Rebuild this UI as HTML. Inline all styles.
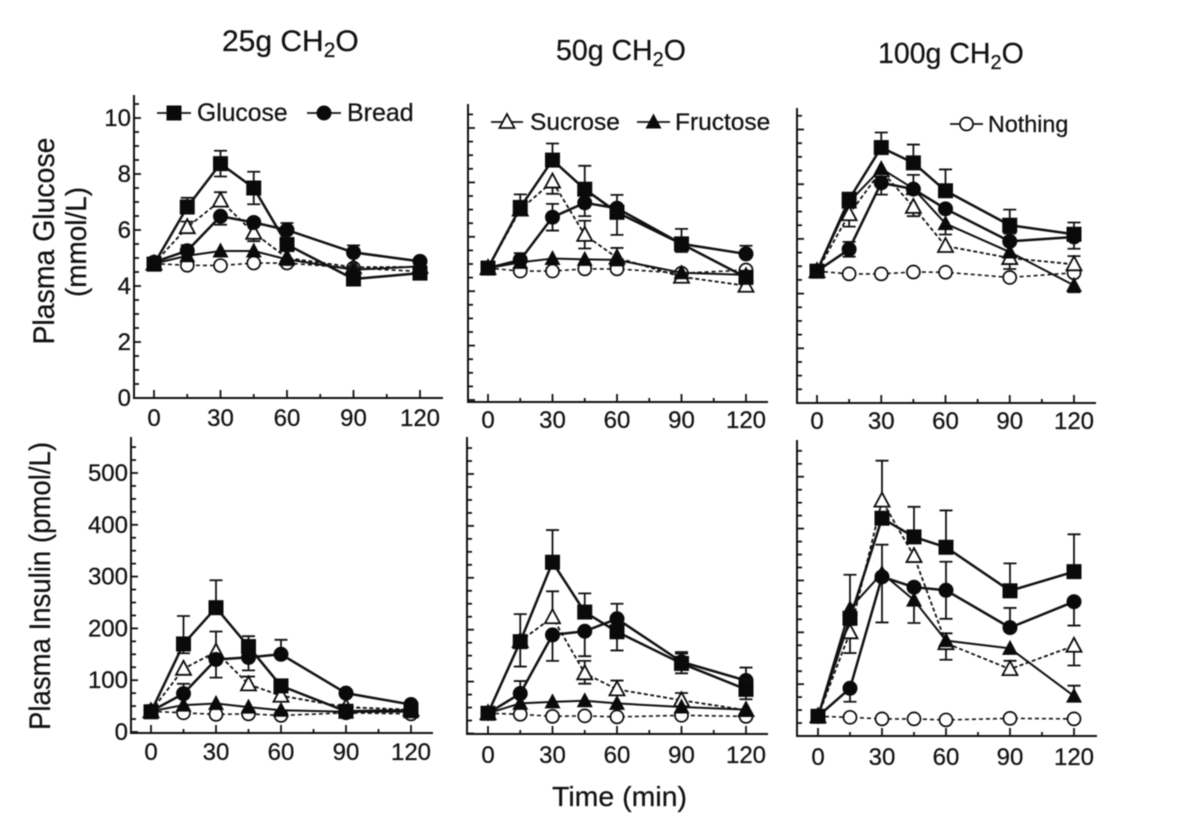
<!DOCTYPE html>
<html lang="en">
<head>
<meta charset="utf-8">
<title>Plasma glucose and insulin after CH2O loads</title>
<style>
html,body{margin:0;padding:0;background:#fff;width:1200px;height:825px;overflow:hidden}
svg{display:block;filter:blur(0.4px)}
text{font-family:"Liberation Sans",Arial,sans-serif;fill:#111;stroke:#111;stroke-width:0.25px}
</style>
</head>
<body>
<svg id="chart" xmlns="http://www.w3.org/2000/svg" width="1200" height="825" viewBox="0 0 1200 825"></svg>
<script>
// ---- Data ----
const timePoints = [0, 15, 30, 45, 60, 90, 120];
const glucoseTickLabels = [0, 2, 4, 6, 8, 10];
const insulinTickLabels = [0, 100, 200, 300, 400, 500];
const timeTickLabels = [0, 30, 60, 90, 120];
const noError = [0, 0, 0, 0, 0, 0, 0];

// Plasma glucose, 25 g
const gluc25Glucose = [4.78, 6.82, 8.37, 7.5, 5.48, 4.25, 4.46];
const gluc25Bread = [4.85, 5.26, 6.49, 6.27, 6.0, 5.2, 4.88];
const gluc25Sucrose = [4.8, 6.1, 7.05, 5.9, 5.0, 4.67, 4.68];
const gluc25Fructose = [4.8, 5.08, 5.25, 5.25, 4.95, 4.58, 4.7];
const gluc25Nothing = [4.8, 4.74, 4.73, 4.82, 4.82, 4.64, 4.52];
const gluc25GlucoseUp = [0, 0.33, 0.46, 0.58, 0, 0, 0];
const gluc25GlucoseLow = [0, 0, 0.46, 0.58, 0, 0, 0];
const gluc25BreadUp = [0, 0.2, 0, 0, 0.25, 0.25, 0];
const gluc25BreadLow = [0, 0, 0.3, 0, 0, 0, 0];
const gluc25SucroseUp = [0, 0.2, 0.3, 0, 0, 0, 0];
const gluc25SucroseLow = [0, 0.2, 0, 0.3, 0, 0, 0];

// Plasma glucose, 50 g
const gluc50Glucose = [4.85, 7.08, 8.82, 7.75, 6.9, 5.74, 4.51];
const gluc50Bread = [4.85, 5.15, 6.72, 7.25, 7.05, 5.74, 5.37];
const gluc50Sucrose = [4.85, 7.0, 8.03, 6.07, 5.23, 4.53, 4.2];
const gluc50Fructose = [4.85, 5.06, 5.2, 5.17, 5.15, 4.68, 4.6];
const gluc50Nothing = [4.85, 4.74, 4.74, 4.82, 4.82, 4.66, 4.78];
const gluc50GlucoseUp = [0, 0.48, 0.61, 0.86, 0, 0.55, 0];
const gluc50GlucoseLow = [0, 0.3, 0, 0, 0.83, 0.3, 0];
const gluc50BreadUp = [0, 0.25, 0.49, 0, 0.49, 0, 0.3];
const gluc50BreadLow = [0, 0, 0.49, 0.49, 0, 0, 0];
const gluc50SucroseUp = [0, 0, 0, 0.52, 0, 0, 0];
const gluc50SucroseLow = [0, 0, 0.45, 0.5, 0, 0, 0];
const gluc50FructoseUp = [0, 0, 0, 0, 0.44, 0, 0];
const gluc50FructoseLow = [0, 0, 0, 0.2, 0, 0, 0];

// Plasma glucose, 100 g
const gluc100Glucose = [4.82, 7.45, 9.34, 8.78, 7.76, 6.5, 6.17];
const gluc100Bread = [4.82, 5.62, 8.05, 7.82, 7.1, 5.91, 6.07];
const gluc100Sucrose = [4.82, 6.9, 8.5, 7.17, 5.74, 5.3, 5.07];
const gluc100Fructose = [4.82, 7.35, 8.57, 7.84, 6.56, 5.52, 4.3];
const gluc100Nothing = [4.82, 4.72, 4.72, 4.79, 4.78, 4.59, 4.76];
const gluc100GlucoseUp = [0, 0, 0.55, 0.67, 0.78, 0.57, 0.43];
const gluc100GlucoseLow = [0, 0, 0, 0, 0, 0.3, 0];
const gluc100BreadUp = [0, 0.27, 0, 0, 0, 0, 0];
const gluc100BreadLow = [0, 0.27, 0.43, 0, 0, 0, 0.43];
const gluc100SucroseUp = [0, 0, 0, 0, 0, 0, 0.3];
const gluc100SucroseLow = [0, 0.45, 0, 0.34, 0, 0.4, 0];
const gluc100FructoseUp = [0, 0, 0, 0.5, 0, 0, 0];
const gluc100FructoseLow = [0, 0, 0, 0, 0.4, 0, 0.25];

// Plasma insulin, 25 g
const ins25Glucose = [39, 170, 240, 165, 89, 40, 42];
const ins25Bread = [40, 74, 140, 144, 150, 75, 53];
const ins25Sucrose = [40, 122, 155, 92, 70, 48, 43];
const ins25Fructose = [40, 52, 55, 48, 42, 39, 39];
const ins25Nothing = [40, 37, 34, 35, 32, 37, 35];
const ins25GlucoseUp = [0, 54, 53, 20, 0, 0, 0];
const ins25GlucoseLow = [0, 18, 0, 0, 0, 0, 0];
const ins25BreadUp = [0, 19, 0, 0, 28, 0, 0];
const ins25BreadLow = [0, 0, 35, 25, 0, 0, 0];
const ins25SucroseUp = [0, 0, 39, 15, 0, 0, 0];

// Plasma insulin, 50 g
const ins50Glucose = [39, 177, 330, 234, 196, 135, 85];
const ins50Bread = [39, 77, 190, 197, 221, 138, 102];
const ins50Sucrose = [39, 178, 224, 116, 85, 64, 45];
const ins50Fructose = [39, 58, 61, 63, 58, 51, 46];
const ins50Nothing = [39, 37, 33, 34, 32, 35, 33];
const ins50GlucoseUp = [0, 53, 62, 36, 0, 19, 19];
const ins50GlucoseLow = [0, 48, 0, 0, 36, 19, 19];
const ins50BreadUp = [0, 24, 0, 0, 29, 19, 25];
const ins50BreadLow = [0, 0, 50, 48, 0, 0, 0];
const ins50SucroseUp = [0, 0, 50, 24, 17, 14, 0];
const ins50SucroseLow = [0, 0, 0, 20, 0, 0, 0];

// Plasma insulin, 100 g
const ins100Glucose = [38, 227, 420, 384, 364, 280, 317];
const ins100Bread = [38, 92, 307, 287, 281, 209, 259];
const ins100Sucrose = [38, 200, 454, 347, 179, 129, 174];
const ins100Fructose = [38, 246, 314, 262, 184, 169, 77];
const ins100Nothing = [38, 36, 33, 33, 31, 34, 33];
const ins100GlucoseUp = [0, 0, 0, 58, 71, 53, 72];
const ins100BreadUp = [0, 0, 0, 0, 55, 38, 0];
const ins100BreadLow = [0, 26, 0, 0, 55, 0, 46];
const ins100SucroseUp = [0, 0, 77, 0, 0, 16, 0];
const ins100SucroseLow = [0, 40, 0, 0, 32, 0, 38];
const ins100FructoseUp = [0, 65, 55, 0, 14, 0, 20];
const ins100FructoseLow = [0, 0, 95, 44, 0, 0, 0];

// ---- Drawing ----
const NS = 'http://www.w3.org/2000/svg';
const svg = document.getElementById('chart');

function node(parent, tag, attrs, txt) {
  const el = document.createElementNS(NS, tag);
  for (const k in attrs) el.setAttribute(k, attrs[k]);
  if (txt !== undefined) el.textContent = txt;
  parent.appendChild(el);
  return el;
}

function drawMarker(g, kind, cx, cy, name) {
  const black = '#0a0a0a';
  let el;
  if (kind === 'square') {
    el = node(g, 'rect', {x: cx - 7.5, y: cy - 7.5, width: 15, height: 15, fill: black});
  } else if (kind === 'dot') {
    el = node(g, 'circle', {cx: cx, cy: cy, r: 7.5, fill: black});
  } else if (kind === 'ring') {
    el = node(g, 'circle', {cx: cx, cy: cy, r: 6.5, fill: '#fff', stroke: black, 'stroke-width': 1.7});
  } else if (kind === 'open-tri') {
    el = node(g, 'path', {d: 'M' + cx + ' ' + (cy - 8) + 'L' + (cx + 7.5) + ' ' + (cy + 6) + 'L' + (cx - 7.5) + ' ' + (cy + 6) + 'Z', fill: '#fff', stroke: black, 'stroke-width': 1.8});
  } else {
    el = node(g, 'path', {d: 'M' + cx + ' ' + (cy - 8.5) + 'L' + (cx + 8) + ' ' + (cy + 6.5) + 'L' + (cx - 8) + ' ' + (cy + 6.5) + 'Z', fill: black});
  }
  
  
}

const styles = {
  Nothing: {marker: 'ring', width: 1.6, dash: '4 3'},
  Sucrose: {marker: 'open-tri', width: 1.8, dash: '4 2.5'},
  Fructose: {marker: 'tri', width: 2, dash: ''},
  Bread: {marker: 'dot', width: 2.5, dash: ''},
  Glucose: {marker: 'square', width: 2.5, dash: ''}
};

function drawPanel(p) {
  const X = function (t) { return p.x0 + (p.x120 - p.x0) * t / 120; };
  const Y = function (v) { return p.y0 - v * p.unitPx; };
  const root = node(svg, 'g', {});
  
  

  // axes
  const yAxis = node(root, 'line', {x1: p.axisX, y1: p.axisTop, x2: p.axisX, y2: p.axisBottom, stroke: '#111', 'stroke-width': 2});
  
  
  const xAxis = node(root, 'line', {x1: p.axisX - 1, y1: p.axisBottom, x2: p.xEnd, y2: p.axisBottom, stroke: '#111', 'stroke-width': 2});
  
  

  // y ticks
  const maxMinor = Math.round(p.yMax / p.yMinor);
  for (let i = 0; i <= maxMinor; i++) {
    const v = i * p.yMinor;
    const major = i % p.majorEvery === 0;
    const yTick = node(root, 'line', {x1: p.axisX, y1: Y(v), x2: p.axisX + (major ? 7 : 5), y2: Y(v), stroke: '#111', 'stroke-width': 1.8});
    
    
  }
  if (p.yLabels) {
    p.yLabels.forEach(function (v) {
      const t = node(root, 'text', {x: p.axisX - 3, y: Y(v) + 8, 'text-anchor': 'end', 'font-size': 24}, String(v));
      
      
    });
  }

  // x ticks
  for (let t = 0; t <= 120; t += 15) {
    const major = t % 30 === 0;
    const xTick = node(root, 'line', {x1: X(t), y1: p.axisBottom, x2: X(t), y2: p.axisBottom - (major ? 8 : 4), stroke: '#111', 'stroke-width': 1.8});
    
    
  }
  timeTickLabels.forEach(function (t) {
    const lab = node(root, 'text', {x: X(t), y: p.labelY, 'text-anchor': 'middle', 'font-size': 24}, String(t));
    
    
  });

  // series
  p.series.forEach(function (s) {
    const st = styles[s.label];
    const g = node(root, 'g', {});
    
    
    // error bars: upper and lower whiskers are read separately
    s.values.forEach(function (v, i) {
      const x = X(timePoints[i]);
      const ends = [s.up[i] > 0 ? v + s.up[i] : null, s.low[i] > 0 ? v - s.low[i] : null];
      ends.forEach(function (end) {
        if (end === null) return;
        const d = 'M' + x + ' ' + Y(v) + 'V' + Y(end) + 'M' + (x - 6.5) + ' ' + Y(end) + 'H' + (x + 6.5);
        const bar = node(g, 'path', {d: d, fill: 'none', stroke: '#111', 'stroke-width': 1.8});
        
        
      });
    });
    const pts = s.values.map(function (v, i) { return X(timePoints[i]) + ',' + Y(v); }).join(' ');
    const line = node(g, 'polyline', {points: pts, fill: 'none', stroke: '#111', 'stroke-width': st.width, 'stroke-dasharray': st.dash, 'stroke-linejoin': 'round'});
    
    
    s.values.forEach(function (v, i) {
      drawMarker(g, st.marker, X(timePoints[i]), Y(v), 'point-' + s.label.toLowerCase());
    });
  });
}

function mk(label, values, up, low) {
  return {label: label, values: values, up: up, low: low};
}

const topMinor = {yMax: 10.5, yMinor: 0.5, majorEvery: 4};
const botMinor = {yMax: 550, yMinor: 25, majorEvery: 4};

drawPanel(Object.assign({name: 'panel-glucose-25g', axisX: 134, axisTop: 95, axisBottom: 398, x0: 154, x120: 420, xEnd: 443, y0: 398, unitPx: 28, labelY: 426, yLabels: glucoseTickLabels,
  series: [mk('Nothing', gluc25Nothing, noError, noError), mk('Sucrose', gluc25Sucrose, gluc25SucroseUp, gluc25SucroseLow), mk('Fructose', gluc25Fructose, noError, noError), mk('Bread', gluc25Bread, gluc25BreadUp, gluc25BreadLow), mk('Glucose', gluc25Glucose, gluc25GlucoseUp, gluc25GlucoseLow)]}, topMinor));

drawPanel(Object.assign({name: 'panel-glucose-50g', axisX: 468, axisTop: 104, axisBottom: 402, x0: 488, x120: 746, xEnd: 768, y0: 400, unitPx: 27.2, labelY: 428,
  series: [mk('Nothing', gluc50Nothing, noError, noError), mk('Sucrose', gluc50Sucrose, gluc50SucroseUp, gluc50SucroseLow), mk('Fructose', gluc50Fructose, gluc50FructoseUp, gluc50FructoseLow), mk('Bread', gluc50Bread, gluc50BreadUp, gluc50BreadLow), mk('Glucose', gluc50Glucose, gluc50GlucoseUp, gluc50GlucoseLow)]}, topMinor));

drawPanel(Object.assign({name: 'panel-glucose-100g', axisX: 797, axisTop: 108, axisBottom: 403, x0: 817, x120: 1074, xEnd: 1096, y0: 403, unitPx: 27.35, labelY: 429,
  series: [mk('Nothing', gluc100Nothing, noError, noError), mk('Sucrose', gluc100Sucrose, gluc100SucroseUp, gluc100SucroseLow), mk('Fructose', gluc100Fructose, gluc100FructoseUp, gluc100FructoseLow), mk('Bread', gluc100Bread, gluc100BreadUp, gluc100BreadLow), mk('Glucose', gluc100Glucose, gluc100GlucoseUp, gluc100GlucoseLow)]}, topMinor));

drawPanel(Object.assign({name: 'panel-insulin-25g', axisX: 131, axisTop: 437, axisBottom: 733, x0: 151, x120: 411, xEnd: 433, y0: 732, unitPx: 0.518, labelY: 760, yLabels: insulinTickLabels,
  series: [mk('Nothing', ins25Nothing, noError, noError), mk('Sucrose', ins25Sucrose, ins25SucroseUp, noError), mk('Fructose', ins25Fructose, noError, noError), mk('Bread', ins25Bread, ins25BreadUp, ins25BreadLow), mk('Glucose', ins25Glucose, ins25GlucoseUp, ins25GlucoseLow)]}, botMinor));

drawPanel(Object.assign({name: 'panel-insulin-50g', axisX: 467, axisTop: 437, axisBottom: 734, x0: 488, x120: 746, xEnd: 768, y0: 733.5, unitPx: 0.519, labelY: 763,
  series: [mk('Nothing', ins50Nothing, noError, noError), mk('Sucrose', ins50Sucrose, ins50SucroseUp, ins50SucroseLow), mk('Fructose', ins50Fructose, noError, noError), mk('Bread', ins50Bread, ins50BreadUp, ins50BreadLow), mk('Glucose', ins50Glucose, ins50GlucoseUp, ins50GlucoseLow)]}, botMinor));

drawPanel(Object.assign({name: 'panel-insulin-100g', axisX: 797, axisTop: 440, axisBottom: 736, x0: 818, x120: 1074, xEnd: 1097, y0: 736, unitPx: 0.5185, labelY: 765,
  series: [mk('Nothing', ins100Nothing, noError, noError), mk('Sucrose', ins100Sucrose, ins100SucroseUp, ins100SucroseLow), mk('Fructose', ins100Fructose, ins100FructoseUp, ins100FructoseLow), mk('Bread', ins100Bread, ins100BreadUp, ins100BreadLow), mk('Glucose', ins100Glucose, ins100GlucoseUp, noError)]}, botMinor));

// ---- Legend ----
function legendEntry(label, kind, x1, x2, cy, textX, fs) {
  const g = node(svg, 'g', {});
  
  
  node(g, 'line', {x1: x1, y1: cy, x2: x2, y2: cy, stroke: '#111', 'stroke-width': 1.8});
  drawMarker(g, kind, (x1 + x2) / 2, cy, 'legend-marker');
  const t = node(g, 'text', {x: textX, y: cy + 8, 'font-size': fs}, label);
  
  
}
legendEntry('Glucose', 'square', 157, 191, 113, 197, 24.7);
legendEntry('Bread', 'dot', 307, 341, 113, 347, 25);
legendEntry('Sucrose', 'open-tri', 491, 523, 122, 530, 24.5);
legendEntry('Fructose', 'tri', 637, 670, 122, 675, 24.5);
legendEntry('Nothing', 'ring', 950, 983, 124, 988, 23.3);

// ---- Titles ----
function panelTitle(x, y, fs, lead, name) {
  const t = node(svg, 'text', {x: x, y: y, 'font-size': fs});
  
  
  node(t, 'tspan', {}, lead + ' CH');
  node(t, 'tspan', {dy: 6, 'font-size': fs * 0.7}, '2');
  node(t, 'tspan', {dy: -6}, 'O');
}
panelTitle(222, 51, 30, '25g', 'title-25g');
panelTitle(556, 60, 28.5, '50g', 'title-50g');
panelTitle(878, 63, 28.5, '100g', 'title-100g');

function rotatedTitle(baseX, cy, fs, str, len, name) {
  const t = node(svg, 'text', {x: 0, y: 0, 'font-size': fs, 'text-anchor': 'middle', textLength: len, lengthAdjust: 'spacingAndGlyphs', transform: 'translate(' + baseX + ',' + cy + ') rotate(-90)'}, str);
  
  
}
rotatedTitle(54, 241, 30, 'Plasma Glucose', 207, 'y-axis-title-glucose');
rotatedTitle(86, 242, 29, '(mmol/L)', 110, 'y-axis-title-glucose-unit');
rotatedTitle(50, 586, 30, 'Plasma Insulin (pmol/L)', 288, 'y-axis-title-insulin');

const xTitle = node(svg, 'text', {x: 552, y: 806, 'font-size': 28, textLength: 135, lengthAdjust: 'spacingAndGlyphs'}, 'Time (min)');


</script>
</body>
</html>
